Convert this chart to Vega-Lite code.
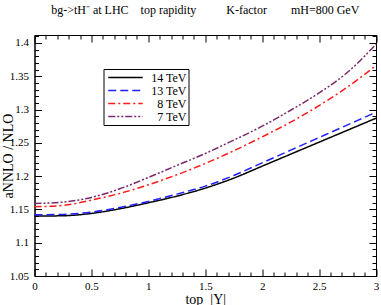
{
  "$schema": "https://vega.github.io/schema/vega-lite/v6.json",
  "width": 341.5,
  "height": 241,
  "autosize": "none",
  "padding": {"left": 34.5, "top": 35, "right": 5, "bottom": 29},
  "background": "white",
  "title": {
    "text": "bg->tH⁻ at LHC\u00a0\u00a0\u00a0\u00a0top rapidity\u00a0\u00a0\u00a0\u00a0\u00a0\u00a0\u00a0\u00a0\u00a0\u00a0K-factor\u00a0\u00a0\u00a0\u00a0\u00a0\u00a0\u00a0\u00a0mH=800 GeV",
    "font": "Liberation Serif",
    "fontSize": 12,
    "fontWeight": "normal",
    "color": "black",
    "anchor": "middle",
    "offset": 13
  },
  "config": {
    "view": {"stroke": "black", "strokeWidth": 1},
    "axis": {
      "domainColor": "black",
      "tickColor": "black",
      "labelColor": "black",
      "titleColor": "black",
      "labelFont": "Liberation Serif",
      "titleFont": "Liberation Serif",
      "labelFontSize": 11,
      "titleFontSize": 14,
      "titleFontWeight": "normal",
      "grid": false
    }
  },
  "data": {
    "values": [
      {"x": 0, "y": 1.140, "s": "14 TeV"},
      {"x": 0.25, "y": 1.1405, "s": "14 TeV"},
      {"x": 0.5, "y": 1.144, "s": "14 TeV"},
      {"x": 0.75, "y": 1.151, "s": "14 TeV"},
      {"x": 1, "y": 1.160, "s": "14 TeV"},
      {"x": 1.25, "y": 1.170, "s": "14 TeV"},
      {"x": 1.5, "y": 1.182, "s": "14 TeV"},
      {"x": 1.75, "y": 1.197, "s": "14 TeV"},
      {"x": 2, "y": 1.215, "s": "14 TeV"},
      {"x": 2.25, "y": 1.233, "s": "14 TeV"},
      {"x": 2.5, "y": 1.251, "s": "14 TeV"},
      {"x": 2.75, "y": 1.269, "s": "14 TeV"},
      {"x": 3, "y": 1.287, "s": "14 TeV"},
      {"x": 0, "y": 1.142, "s": "13 TeV"},
      {"x": 0.25, "y": 1.1425, "s": "13 TeV"},
      {"x": 0.5, "y": 1.146, "s": "13 TeV"},
      {"x": 0.75, "y": 1.153, "s": "13 TeV"},
      {"x": 1, "y": 1.162, "s": "13 TeV"},
      {"x": 1.25, "y": 1.173, "s": "13 TeV"},
      {"x": 1.5, "y": 1.185, "s": "13 TeV"},
      {"x": 1.75, "y": 1.201, "s": "13 TeV"},
      {"x": 2, "y": 1.220, "s": "13 TeV"},
      {"x": 2.25, "y": 1.239, "s": "13 TeV"},
      {"x": 2.5, "y": 1.258, "s": "13 TeV"},
      {"x": 2.75, "y": 1.277, "s": "13 TeV"},
      {"x": 3, "y": 1.296, "s": "13 TeV"},
      {"x": 0, "y": 1.154, "s": "8 TeV"},
      {"x": 0.25, "y": 1.156, "s": "8 TeV"},
      {"x": 0.5, "y": 1.164, "s": "8 TeV"},
      {"x": 0.75, "y": 1.174, "s": "8 TeV"},
      {"x": 1, "y": 1.187, "s": "8 TeV"},
      {"x": 1.25, "y": 1.202, "s": "8 TeV"},
      {"x": 1.5, "y": 1.219, "s": "8 TeV"},
      {"x": 1.75, "y": 1.238, "s": "8 TeV"},
      {"x": 2, "y": 1.259, "s": "8 TeV"},
      {"x": 2.25, "y": 1.281, "s": "8 TeV"},
      {"x": 2.5, "y": 1.306, "s": "8 TeV"},
      {"x": 2.75, "y": 1.334, "s": "8 TeV"},
      {"x": 3, "y": 1.366, "s": "8 TeV"},
      {"x": 0, "y": 1.159, "s": "7 TeV"},
      {"x": 0.25, "y": 1.161, "s": "7 TeV"},
      {"x": 0.5, "y": 1.168, "s": "7 TeV"},
      {"x": 0.75, "y": 1.181, "s": "7 TeV"},
      {"x": 1, "y": 1.198, "s": "7 TeV"},
      {"x": 1.25, "y": 1.216, "s": "7 TeV"},
      {"x": 1.5, "y": 1.234, "s": "7 TeV"},
      {"x": 1.75, "y": 1.254, "s": "7 TeV"},
      {"x": 2, "y": 1.275, "s": "7 TeV"},
      {"x": 2.25, "y": 1.299, "s": "7 TeV"},
      {"x": 2.5, "y": 1.325, "s": "7 TeV"},
      {"x": 2.75, "y": 1.356, "s": "7 TeV"},
      {"x": 3, "y": 1.398, "s": "7 TeV"}
    ]
  },
  "layer": [
    {
      "mark": {"type": "line", "strokeWidth": 1.5, "interpolate": "monotone"},
      "encoding": {
        "x": {
          "field": "x", "type": "quantitative",
          "scale": {"domain": [0, 3], "nice": false},
          "axis": {
            "orient": "bottom",
            "title": "top\u00a0\u00a0|Y|",
            "titlePadding": -2,
            "values": [0,0.1,0.2,0.3,0.4,0.5,0.6,0.7,0.8,0.9,1,1.1,1.2,1.3,1.4,1.5,1.6,1.7,1.8,1.9,2,2.1,2.2,2.3,2.4,2.5,2.6,2.7,2.8,2.9,3],
            "labelExpr": "abs(datum.value*2 - round(datum.value*2)) < 0.001 ? toString(datum.value) : ''",
            "tickSize": {"condition": {"test": "abs(datum.value*2 - round(datum.value*2)) < 0.001", "value": -7}, "value": -4},
            "labelPadding": 11,
            "labelFlush": false,
            "labelOverlap": false
          }
        },
        "y": {
          "field": "y", "type": "quantitative",
          "scale": {"domain": [1.05, 1.412], "nice": false, "zero": false},
          "axis": {
            "orient": "left",
            "title": "aNNLO / NLO",
            "titlePadding": -6,
            "values": [1.05,1.06,1.07,1.08,1.09,1.1,1.11,1.12,1.13,1.14,1.15,1.16,1.17,1.18,1.19,1.2,1.21,1.22,1.23,1.24,1.25,1.26,1.27,1.28,1.29,1.3,1.31,1.32,1.33,1.34,1.35,1.36,1.37,1.38,1.39,1.4,1.41],
            "labelExpr": "abs(datum.value*20 - round(datum.value*20)) < 0.001 ? toString(datum.value) : ''",
            "tickSize": {"condition": {"test": "abs(datum.value*20 - round(datum.value*20)) < 0.001", "value": -7}, "value": -4},
            "labelPadding": 13,
            "labelFlush": false,
            "labelOverlap": false
          }
        },
        "color": {
          "field": "s", "type": "nominal",
          "scale": {"domain": ["14 TeV", "13 TeV", "8 TeV", "7 TeV"], "range": ["black", "#1f1fff", "#ff1a1a", "#7a2a6a"]},
          "legend": {
            "title": null,
            "orient": "none",
            "legendX": 69,
            "legendY": 34,
            "padding": 2,
            "rowPadding": 0,
            "strokeColor": "black",
            "fillColor": "white",
            "symbolType": "M-3,0L3,0",
            "symbolSize": 132,
            "symbolStrokeWidth": 1.5,
            "symbolOffset": 13.5,
            "labelFont": "Liberation Serif",
            "labelFontSize": 12,
            "labelColor": "black",
            "labelAlign": "right",
            "labelOffset": 54.5
          }
        },
        "strokeDash": {
          "field": "s", "type": "nominal",
          "scale": {"domain": ["14 TeV", "13 TeV", "8 TeV", "7 TeV"], "range": [[1, 0], [8, 4], [7, 3, 2, 3], [7, 2, 2, 2, 2, 2]]},
          "legend": null
        }
      }
    },
    {
      "mark": {"type": "line", "opacity": 0},
      "encoding": {
        "x": {
          "field": "x", "type": "quantitative",
          "axis": {
            "orient": "top",
            "title": null,
            "labels": false,
            "values": [0,0.1,0.2,0.3,0.4,0.5,0.6,0.7,0.8,0.9,1,1.1,1.2,1.3,1.4,1.5,1.6,1.7,1.8,1.9,2,2.1,2.2,2.3,2.4,2.5,2.6,2.7,2.8,2.9,3],
            "tickSize": {"condition": {"test": "abs(datum.value*2 - round(datum.value*2)) < 0.001", "value": -7}, "value": -4}
          }
        },
        "y": {
          "field": "y", "type": "quantitative",
          "axis": {
            "orient": "right",
            "title": null,
            "labels": false,
            "values": [1.05,1.06,1.07,1.08,1.09,1.1,1.11,1.12,1.13,1.14,1.15,1.16,1.17,1.18,1.19,1.2,1.21,1.22,1.23,1.24,1.25,1.26,1.27,1.28,1.29,1.3,1.31,1.32,1.33,1.34,1.35,1.36,1.37,1.38,1.39,1.4,1.41],
            "tickSize": {"condition": {"test": "abs(datum.value*20 - round(datum.value*20)) < 0.001", "value": -7}, "value": -4}
          }
        },
        "detail": {"field": "s"}
      }
    }
  ],
  "resolve": {"axis": {"x": "independent", "y": "independent"}}
}
